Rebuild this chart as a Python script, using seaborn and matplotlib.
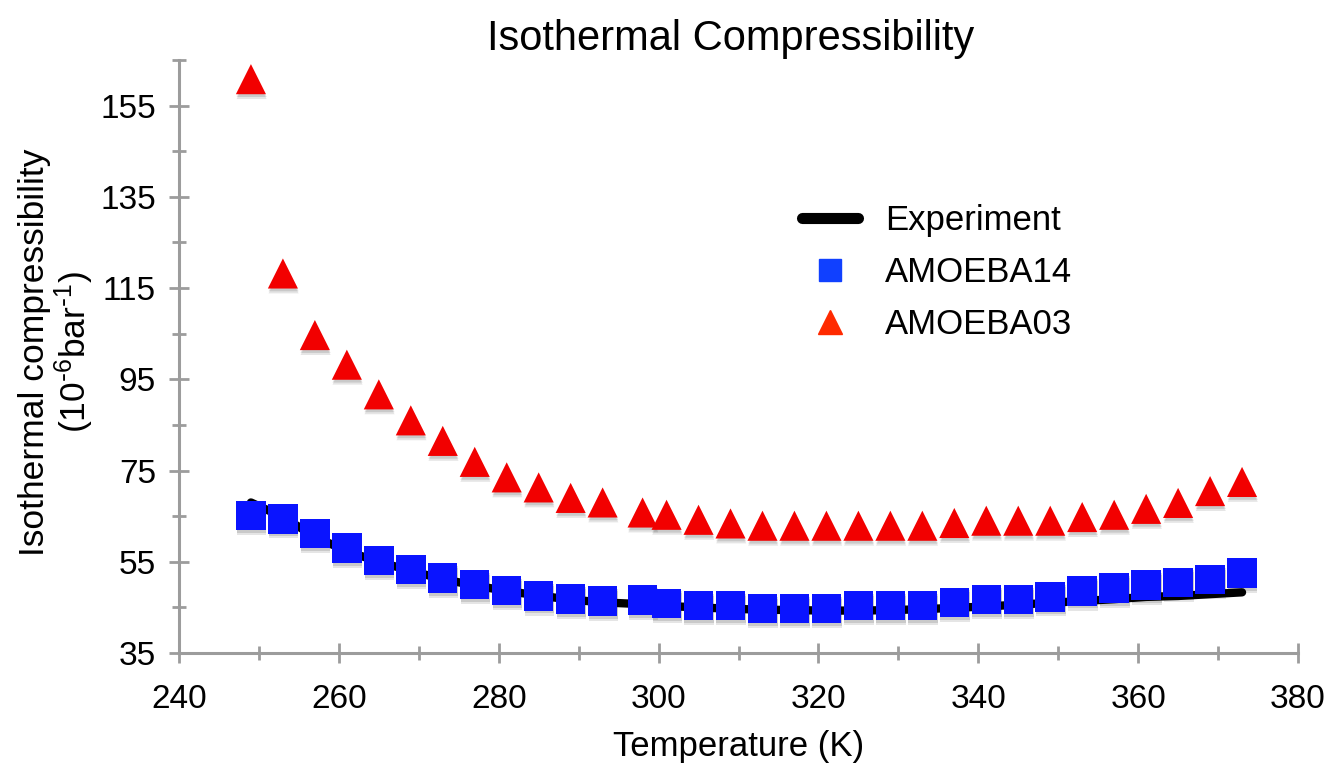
import matplotlib
matplotlib.use("Agg")
import matplotlib.pyplot as plt
import matplotlib.patheffects as pe
from matplotlib.lines import Line2D
from matplotlib.ticker import MultipleLocator, FixedLocator
import seaborn as sns

# ---------------- data ----------------
temperature = [249, 253, 257, 261, 265, 269, 273, 277, 281, 285, 289, 293,
               298, 301, 305, 309, 313, 317, 321, 325, 329, 333, 337, 341,
               345, 349, 353, 357, 361, 365, 369, 373]
experiment = [68.0, 64.8, 60.5, 57.3, 55.0, 53.0, 51.2, 49.8, 48.6, 47.6, 46.7, 46.1,
              45.7, 45.3, 45.0, 44.7, 44.5, 44.4, 44.3, 44.3, 44.4, 44.6, 44.9, 45.2,
              45.6, 46.0, 46.4, 46.8, 47.3, 47.5, 47.9, 48.3]
amoeba14 = [65.2, 64.4, 61.2, 58.0, 55.3, 53.3, 51.4, 50.0, 48.7, 47.5, 46.8, 46.4,
            46.6, 45.9, 45.4, 45.4, 44.7, 44.7, 44.7, 45.4, 45.4, 45.4, 46.1, 46.7,
            46.7, 47.3, 48.6, 49.2, 49.9, 50.5, 51.1, 52.5]
amoeba03 = [160.8, 118.2, 104.7, 98.2, 91.7, 86.0, 81.5, 76.9, 73.5, 71.3, 69.0, 68.0,
            65.8, 65.3, 64.2, 63.4, 62.9, 62.9, 62.9, 62.9, 62.9, 62.9, 63.5, 64.0,
            64.0, 64.0, 64.8, 65.3, 66.6, 67.9, 70.5, 72.5]
series_labels = ["Experiment", "AMOEBA14", "AMOEBA03"]
x_ticks = [240, 260, 280, 300, 320, 340, 360, 380]
y_ticks = [35, 55, 75, 95, 115, 135, 155]

# ---------------- style ----------------
sns.set_theme(style="ticks")
plt.rcParams["font.family"] = ["Liberation Sans", "DejaVu Sans"]
plt.rcParams["mathtext.default"] = "regular"
plt.rcParams["text.color"] = "black"
plt.rcParams["axes.labelcolor"] = "black"

W, H = 1336, 771
fig = plt.figure(figsize=(W / 100, H / 100), dpi=100)
ax = fig.add_axes([179 / W, 118 / H, 1119 / W, 593 / H])

shadow = [pe.SimplePatchShadow(offset=(0.5, -2.0), shadow_rgbFace="black", alpha=0.12),
          pe.SimplePatchShadow(offset=(0.5, -3.5), shadow_rgbFace="black", alpha=0.10),
          pe.Normal()]

sns.lineplot(x=temperature, y=experiment, color="black", linewidth=6,
             sort=False, estimator=None, ax=ax, zorder=2)
ax.lines[-1].set_solid_capstyle("round")

sns.scatterplot(x=temperature, y=amoeba03, marker="^", color="#f20000", s=470,
                linewidth=0, ax=ax, zorder=3)
ax.collections[-1].set_path_effects(shadow)
sns.scatterplot(x=temperature, y=amoeba14, marker="s", color="#0a14ff", s=450,
                linewidth=0, ax=ax, zorder=4)
ax.collections[-1].set_path_effects(shadow)

ax.set_xlim(240, 380)
ax.set_ylim(35, 165)
ax.xaxis.set_major_locator(FixedLocator(x_ticks))
ax.xaxis.set_minor_locator(MultipleLocator(10))
ax.yaxis.set_major_locator(FixedLocator(y_ticks))
ax.yaxis.set_minor_locator(FixedLocator([45, 65, 85, 105, 125, 145, 165]))

spine_col = "#9c9c9c"
for s in ["top", "right"]:
    ax.spines[s].set_visible(False)
for s in ["left", "bottom"]:
    ax.spines[s].set_color(spine_col)
    ax.spines[s].set_linewidth(2.2)

ax.tick_params(which="major", direction="inout", length=14, width=2, color=spine_col,
               labelsize=24, labelcolor="black")
ax.tick_params(which="minor", direction="inout", length=10, width=2, color=spine_col)
ax.tick_params(axis="y", which="major", pad=9.5)
ax.tick_params(axis="x", which="major", pad=15)

ax.set_xlabel("Temperature (K)", fontsize=25, color="black")
ax.xaxis.set_label_coords(0.5, -0.13)
ax.set_ylabel("Isothermal compressibility\n(10$^{\\text{-}6}$bar$^{\\text{-}1}$)", fontsize=25.5,
              color="black", linespacing=1.05)
ax.yaxis.set_label_coords(-0.074, 0.507)

fig.text(731 / W, 1 - 50 / H, "Isothermal Compressibility", fontsize=30,
         ha="center", va="baseline", color="black")

handles = [
    Line2D([], [], color="black", lw=8, solid_capstyle="round"),
    Line2D([], [], color="#1040ff", marker="s", ls="none", markersize=16.5),
    Line2D([], [], color="#ff2a00", marker="^", ls="none", markersize=17.5),
]
fig.legend(handles, series_labels, loc="upper left",
           bbox_to_anchor=(802 / W, 1 - 204 / H), frameon=False, fontsize=25,
           labelcolor="black",
           handlelength=1.6, handletextpad=0.8, labelspacing=0.55,
           borderpad=0, borderaxespad=0)

fig.savefig("out.png", dpi=100, facecolor="white")
